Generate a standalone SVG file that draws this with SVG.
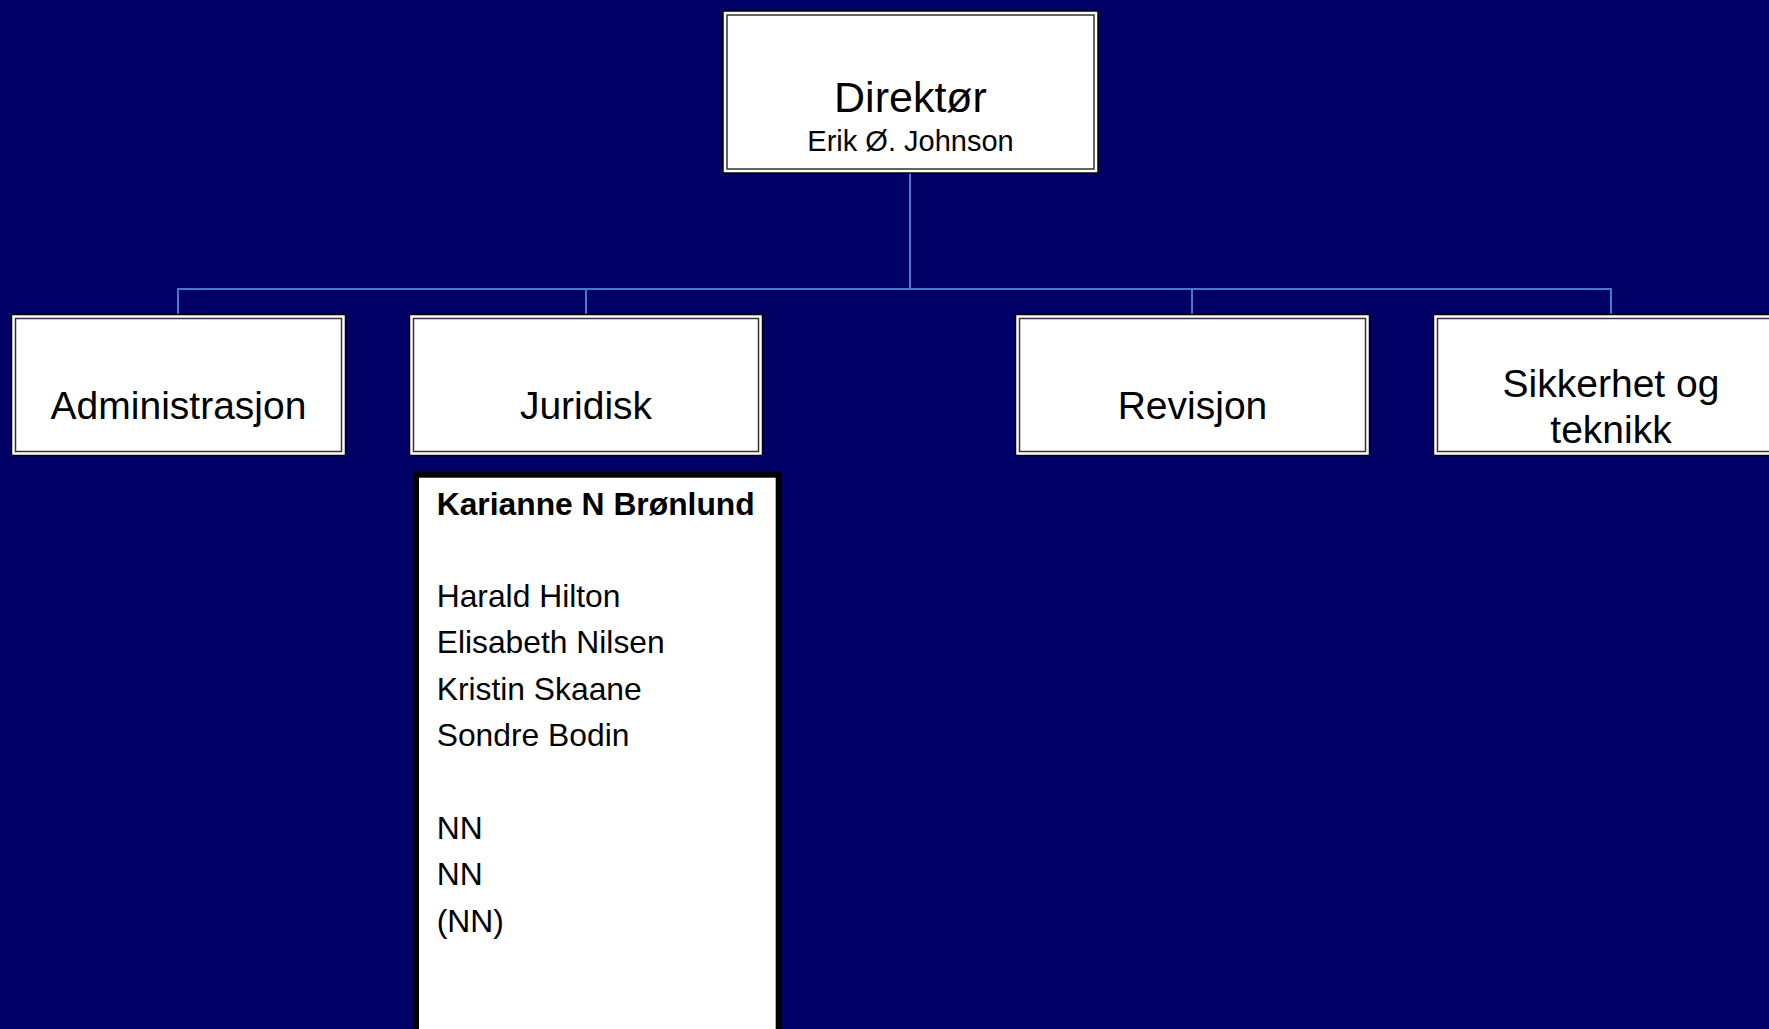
<svg xmlns="http://www.w3.org/2000/svg" width="1769" height="1029" viewBox="0 0 1769 1029">
<style>
.bg{fill:#000066}
.outer{fill:#ffffff;stroke:#000000;stroke-width:1.5}
.inner{fill:none;stroke:#333333;stroke-width:1.5}
.conn{fill:none;stroke:#4a78c8;stroke-width:2}
.t{font-family:"Liberation Sans",Arial,sans-serif;fill:#000000}
.c{text-anchor:middle}
.head{font-size:39px}
.list{font-size:31.8px}
.b{font-weight:bold}
.staff{fill:#ffffff;stroke:#000000;stroke-width:6}
</style>
<rect class="bg" x="0" y="0" width="1769" height="1029"/>
<g id="connectors">
<path class="conn" d="M910 173 V289"/>
<path class="conn" d="M178 314 V289 H1611 V314"/>
<path class="conn" d="M586 289 V314"/>
<path class="conn" d="M1192 289 V314"/>
</g>
<g id="direktor">
<rect class="outer" x="723" y="11" width="375" height="162"/>
<rect class="inner" x="727" y="15" width="367" height="154"/>
<text class="t c" x="910.5" y="112" font-size="43">Direktør</text>
<text class="t c" x="910.5" y="150.5" font-size="29">Erik Ø. Johnson</text>
</g>
<g id="administrasjon">
<rect class="outer" x="11.5" y="314.5" width="334" height="141"/>
<rect class="inner" x="15.5" y="318.5" width="326" height="133"/>
<text class="t c head" x="178.5" y="419">Administrasjon</text>
</g>
<g id="juridisk">
<rect class="outer" x="409.5" y="314.5" width="353" height="141"/>
<rect class="inner" x="413.5" y="318.5" width="345" height="133"/>
<text class="t c head" x="586" y="419">Juridisk</text>
</g>
<g id="revisjon">
<rect class="outer" x="1015.5" y="314.5" width="354" height="141"/>
<rect class="inner" x="1019.5" y="318.5" width="346" height="133"/>
<text class="t c head" x="1192.5" y="419">Revisjon</text>
</g>
<g id="sikkerhet">
<rect class="outer" x="1433.5" y="314.5" width="356" height="141"/>
<rect class="inner" x="1437.5" y="318.5" width="348" height="133"/>
<text class="t c head" x="1611" y="396.5">Sikkerhet og</text>
<text class="t c head" x="1611" y="442.5">teknikk</text>
</g>
<g id="juridisk-staff">
<rect class="staff" x="416" y="474.7" width="362.7" height="600"/>
<text class="t list b" x="436.7" y="515">Karianne N Brønlund</text>
<text class="t list" x="436.7" y="606.7">Harald Hilton</text>
<text class="t list" x="436.7" y="653.2">Elisabeth Nilsen</text>
<text class="t list" x="436.7" y="699.6">Kristin Skaane</text>
<text class="t list" x="436.7" y="745.9">Sondre Bodin</text>
<text class="t list" x="436.7" y="838.7">NN</text>
<text class="t list" x="436.7" y="885.1">NN</text>
<text class="t list" x="436.7" y="931.5">(NN)</text>
</g>
</svg>
